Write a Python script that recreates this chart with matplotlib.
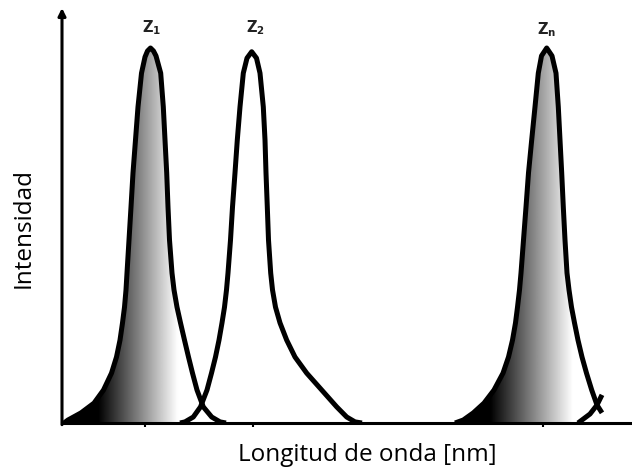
import numpy as np
import matplotlib
matplotlib.use("Agg")
import matplotlib.pyplot as plt
from matplotlib.colors import LinearSegmentedColormap

# wavelength (arbitrary units) and intensity (a.u.)
z1_wl = [2, 6, 19, 32, 41.5, 49.5, 54.5, 58, 60.5, 62.5, 64, 65, 67, 69, 71, 73.5, 76, 79.5, 83, 85.5, 88.5,
         91.5, 94, 98.7, 101.3, 103, 104.7, 106, 107.5, 110, 112, 115, 118.5, 122.5, 126.5, 130.5, 135, 141.3,
         149.7, 158, 164]
z1_int = [0, 0.008, 0.027, 0.053, 0.088, 0.133, 0.176, 0.221, 0.267, 0.309, 0.355, 0.400, 0.488, 0.576, 0.667,
          0.755, 0.843, 0.933, 0.976, 0.992, 1.0,
          0.992, 0.979, 0.933, 0.843, 0.755, 0.667, 0.576, 0.488, 0.400, 0.355, 0.309, 0.267, 0.221, 0.176, 0.133,
          0.088, 0.043, 0.016, 0.003, 0]

z2_wl = [118, 123, 131.3, 138.5, 145, 149.5, 153.5, 157, 160, 162.5, 164.5, 166, 168.5, 170.5, 173, 175.3, 178,
         181.3, 185, 189.7,
         194.5, 198, 201.3, 203, 204, 205.3, 206.5, 208.7, 210.5, 213.5, 218, 224.7, 233, 244.7, 259.7, 274.7,
         284.7, 293, 300]
z2_int = [0, 0.003, 0.016, 0.043, 0.088, 0.133, 0.176, 0.221, 0.267, 0.309, 0.355, 0.400, 0.488, 0.576, 0.667,
          0.755, 0.843, 0.933, 0.973, 0.990,
          0.973, 0.933, 0.843, 0.755, 0.667, 0.576, 0.488, 0.400, 0.355, 0.309, 0.267, 0.221, 0.176, 0.133, 0.088,
          0.043, 0.016, 0.003, 0]

zn_wl = [393, 401.3, 411.3, 422, 432, 441, 446.5, 450.5, 453.5, 455.5, 457.5, 459, 461.5, 464, 466.5, 469.7, 473,
         476.3, 479.5, 484.7,
         490, 494, 496.3, 498, 499.7, 501.3, 503, 505, 507, 509.5, 512.5, 516, 520, 524.5, 529.7, 535, 540]
zn_int = [0, 0.008, 0.027, 0.053, 0.088, 0.133, 0.176, 0.221, 0.267, 0.309, 0.355, 0.400, 0.488, 0.576, 0.667,
          0.755, 0.843, 0.933, 0.979, 1.0,
          0.979, 0.933, 0.843, 0.755, 0.667, 0.576, 0.488, 0.400, 0.355, 0.309, 0.267, 0.221, 0.176, 0.133, 0.088,
          0.048, 0.027]

# next peak, only its rising edge is visible before the cut
next_wl = [516, 528, 535, 540]
next_int = [0, 0.024, 0.048, 0.075]

peak_labels = ["$\\mathbf{Z_1}$", "$\\mathbf{Z_2}$", "$\\mathbf{Z_n}$"]
label_pos = [(90, 1.055), (193, 1.055), (485, 1.05)]
tick_positions = [83, 191, 481]

# gradient spans (black -> white) for the shaded peaks
z1_shade = (36, 116)
zn_shade = (428, 511)

fig = plt.figure(figsize=(6.32, 4.73), dpi=100)
ax = fig.add_axes([62 / 632, 50 / 473, 570 / 632, 415 / 473])
xmax, ymax = 570, 415 / 375

grad_cmap = LinearSegmentedColormap.from_list("shade", ["#000000", "#ffffff"])


def shade_peak(wl, inten, span):
    poly = ax.fill_between(wl, inten, 0, color="none", lw=0)
    path = poly.get_paths()[0]
    xs = np.linspace(wl[0], wl[-1], 400)
    g = np.clip((xs - span[0]) / (span[1] - span[0]), 0, 1).reshape(1, -1)
    im = ax.imshow(g, cmap=grad_cmap, vmin=0, vmax=1, aspect="auto",
                   extent=[wl[0], wl[-1], 0, 1.05], interpolation="bilinear", zorder=1)
    im.set_clip_path(path, transform=ax.transData)


shade_peak(z1_wl, z1_int, z1_shade)
shade_peak(zn_wl, zn_int, zn_shade)
ax.set_xlim(0, xmax)
ax.set_ylim(0, ymax)

for wl, it in [(z1_wl, z1_int), (z2_wl, z2_int), (zn_wl, zn_int), (next_wl, next_int)]:
    ax.plot(wl, it, color="black", lw=3.6, solid_joinstyle="round", solid_capstyle="butt", zorder=3)

for lab, (x, y) in zip(peak_labels, label_pos):
    ax.text(x, y, lab, ha="center", va="center", fontsize=10.5, color="#222222")

for s in ["top", "right", "left"]:
    ax.spines[s].set_visible(False)
ax.spines["bottom"].set_linewidth(2.2)
ax.spines["bottom"].set_zorder(4)
ax.set_yticks([])
ax.set_xticks(tick_positions)
ax.tick_params(axis="x", direction="out", length=3, width=1.5, labelbottom=False)

# vertical axis with arrow head
ax.annotate("", xy=(0, 1.0), xycoords="axes fraction", xytext=(0, -0.004),
            arrowprops=dict(arrowstyle="-|>", lw=2.2, color="black", mutation_scale=11,
                            shrinkA=0, shrinkB=0))

fig.text(367 / 632, 1 - 455 / 473, "Longitud de onda [nm]", ha="center", va="center",
         fontsize=17.5, family="Open Sans")
fig.text(24 / 632, 1 - 228 / 473, "Intensidad", ha="center", va="center", rotation=90,
         fontsize=17.5, family="Open Sans")

fig.savefig("out.png", dpi=100)
